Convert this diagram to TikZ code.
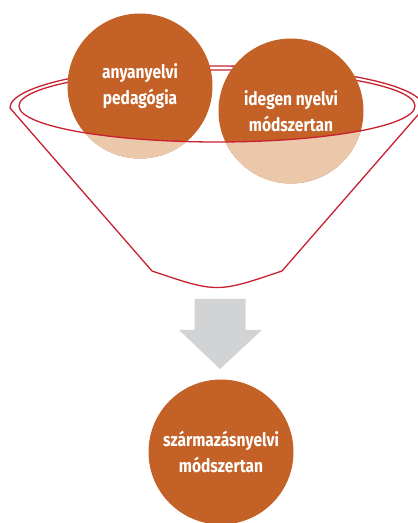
\documentclass[tikz,border=0pt]{standalone}
\usepackage{fontspec}
\setmainfont{Fira Sans}[FakeStretch=0.84]
\usetikzlibrary{positioning}
\definecolor{rust}{HTML}{C46127}
\definecolor{peach}{HTML}{EBC8A9}
\definecolor{rim}{HTML}{C8202F}
\definecolor{arrowgray}{HTML}{D1D3D4}
\tikzstyle{every picture} = [x=1pt, y=1pt]
\tikzstyle{bubble} = [circle, fill=rust, text=white, minimum size=145pt, inner sep=0pt, align=center,
  font=\fontsize{18.5}{26}\selectfont\bfseries]
\tikzstyle{rimline} = [draw=rim, line width=1.3pt, line join=round]

\begin{document}
\begin{tikzpicture}
            \useasboundingbox (0,0) rectangle (418,523);
            % funnel, back part
            \coordinate (rim left) at (10,415);
            \coordinate (cone left) at (152,252);
            \coordinate (cone right) at (282,252);
            \draw[rimline] (cone left) -- (rim left) arc (180:0:207 and 42) -- (cone right)
                  .. controls (217,230) .. (cone left);
            \draw[rimline] (19,417) arc (180:0:198 and 36);

            \node (node 1) [bubble] at (140,437) {anyanyelvi\\pedagógia};
            \node (node 2) [bubble] at (291,412) {idegen nyelvi\\módszertan};

            % lower part of the bubbles inside the funnel
            \begin{scope}
              \clip (19,417) arc (180:360:198 and 36) -- (415,300) -- (19,300) -- cycle;
              \fill[peach] (node 1.center) circle (72.5);
              \fill[peach] (node 2.center) circle (72.5);
            \end{scope}
            \draw[rimline] (19,417) arc (180:360:198 and 36);

            % arrow
            \coordinate (arrow top) at (220,224);
            \coordinate (arrow tip) at (220,154);
            \fill[arrowgray] ([xshift=-25.5pt]arrow top) -- ([xshift=25.5pt]arrow top)
                  -- (245.5,193) -- (262,193) -- (arrow tip) -- (179,193) -- (194.5,193) -- cycle;

            \node (node 3) [bubble] at (221,71) {származásnyelvi\\módszertan};
        \end{tikzpicture}
\end{document}
